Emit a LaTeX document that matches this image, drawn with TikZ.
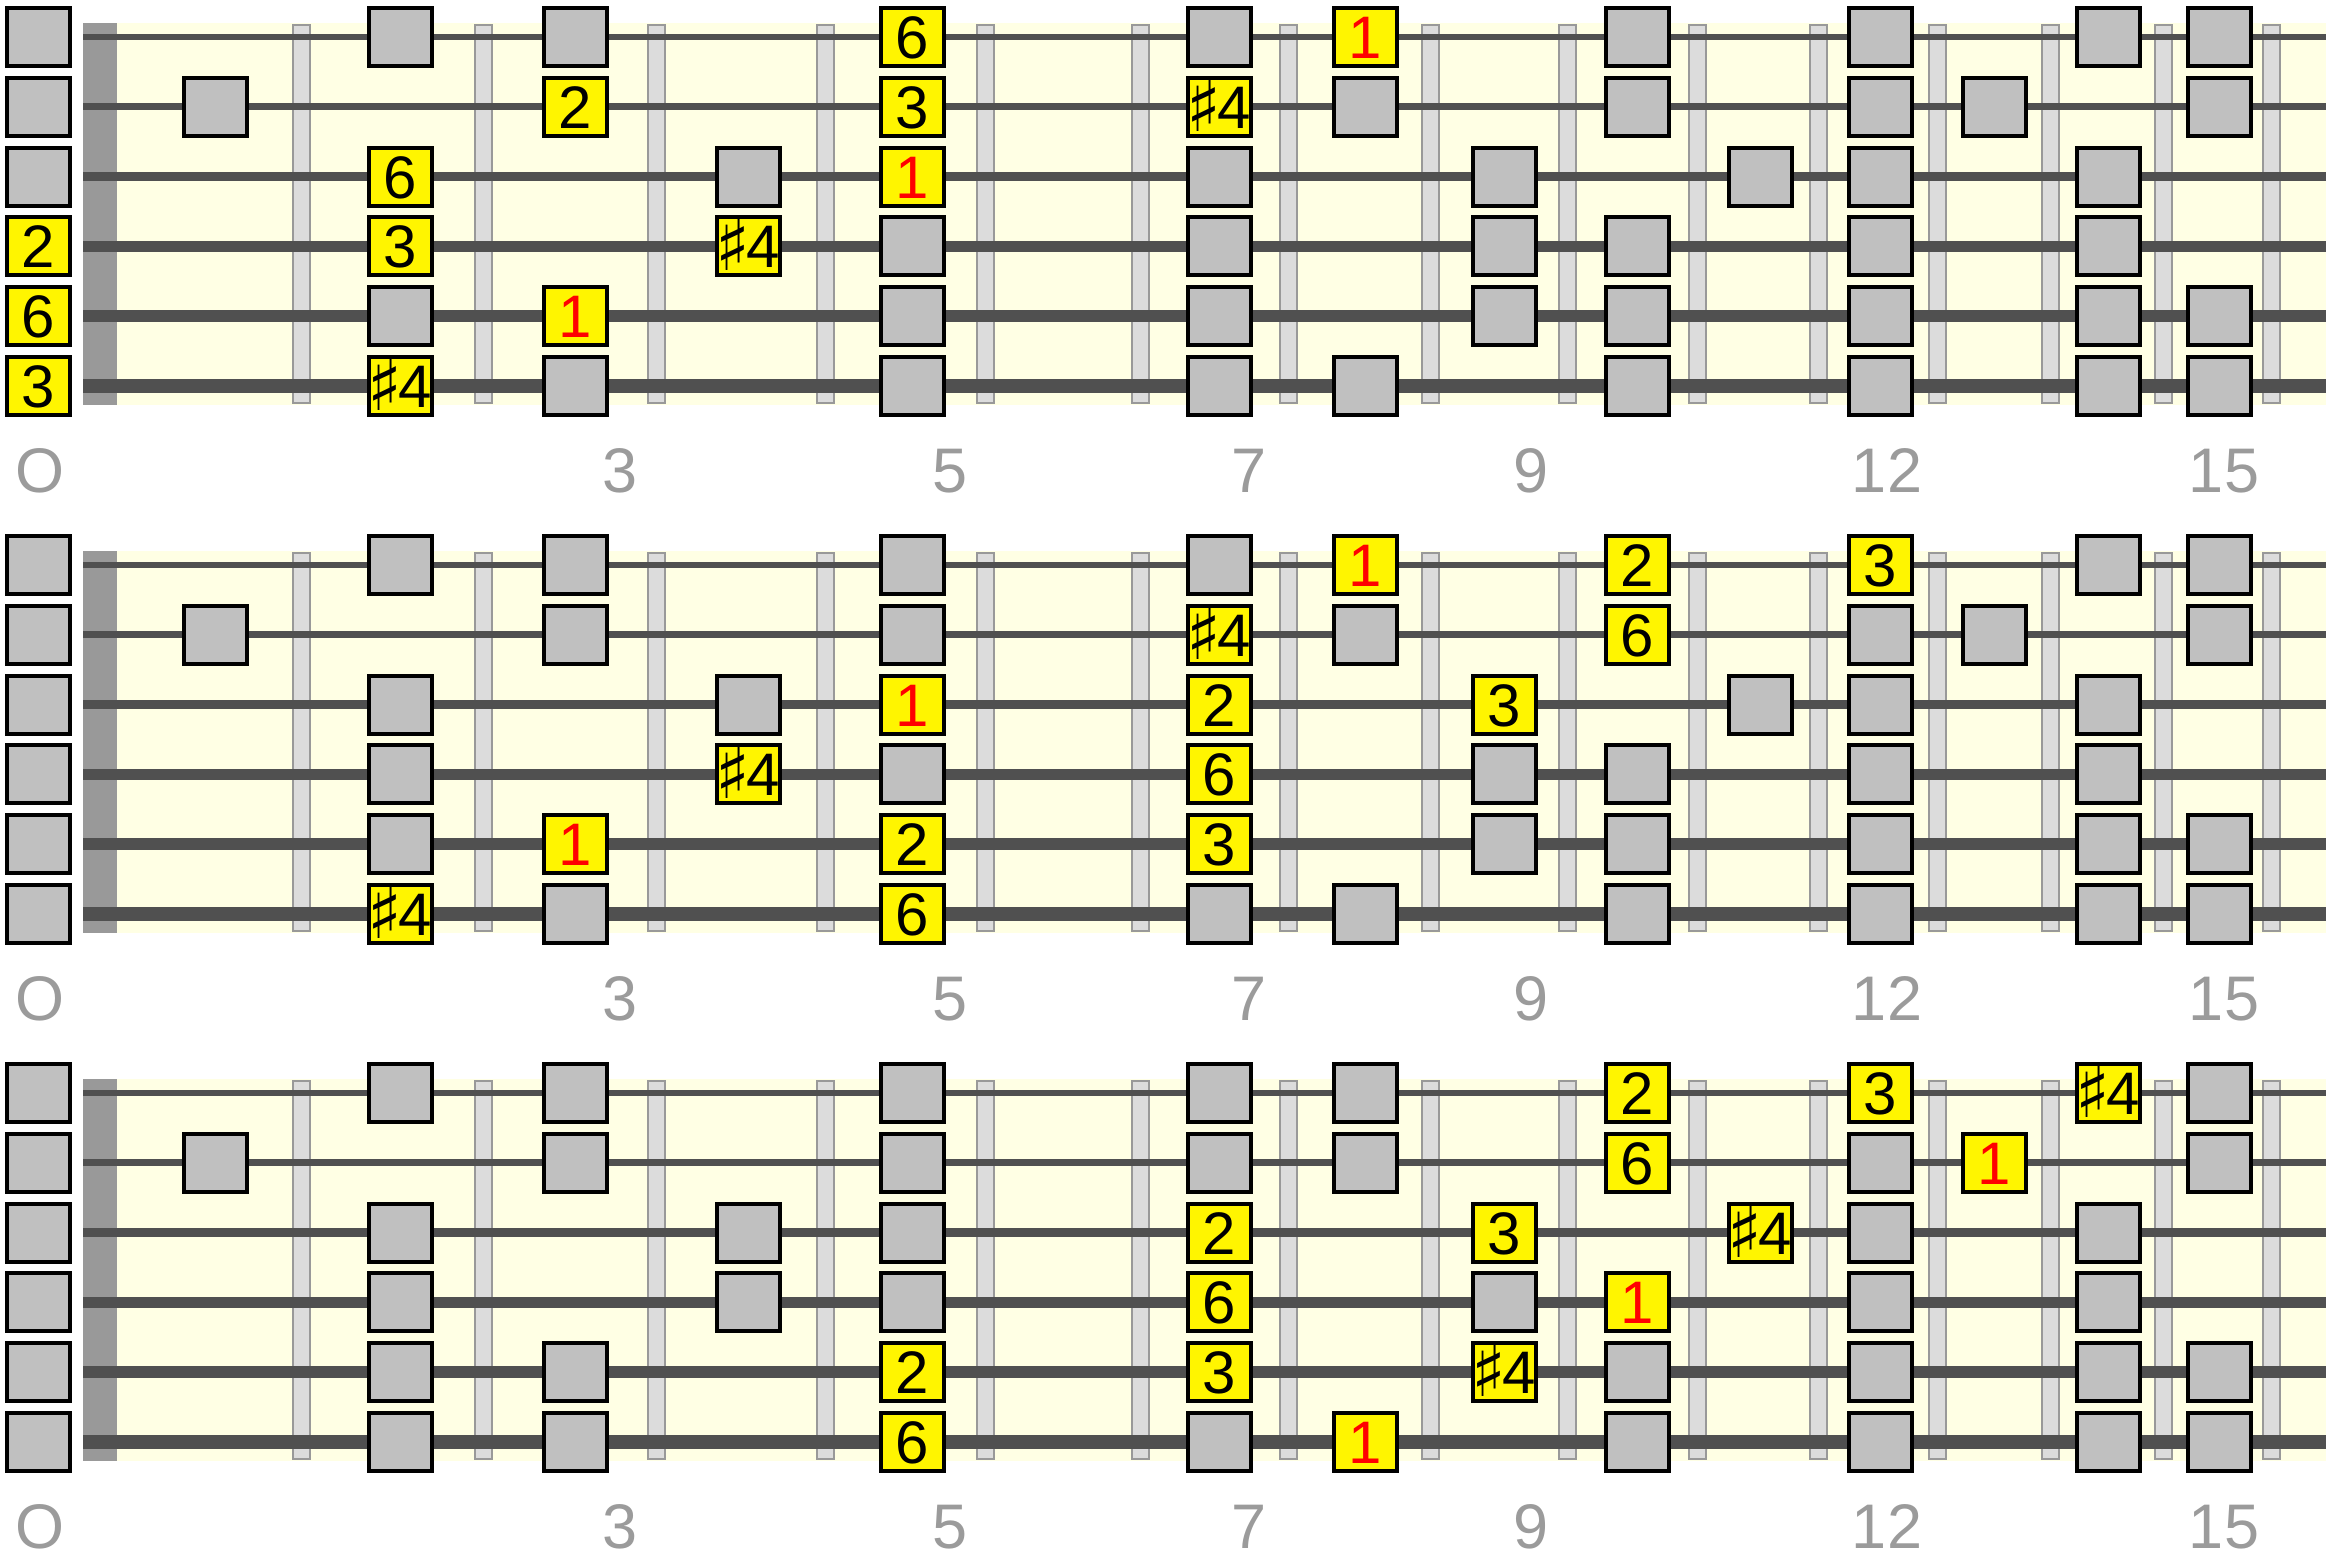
\documentclass[tikz,border=0pt]{standalone}
\usepackage{fontspec}
\setmainfont{Liberation Sans}
\newfontfamily\symfont{DejaVu Sans}

\definecolor{boardbg}{RGB}{255,255,228}
\definecolor{nutgray}{RGB}{153,153,153}
\definecolor{stringgray}{RGB}{80,80,80}
\definecolor{fretfill}{RGB}{220,220,220}
\definecolor{notegray}{RGB}{192,192,192}
\definecolor{noteyellow}{RGB}{255,245,0}
\definecolor{labelgray}{RGB}{155,155,155}

% scale degree shown on board / string / fret
\newcommand{\setdeg}[4]{\expandafter\def\csname deg@#1@#2@#3\endcsname{#4}}
\newcommand{\rootdeg}{\textcolor{red}{1}}
\newcommand{\sharpfour}{\makebox[28pt][c]{\raisebox{-1.5pt}{\symfont\fontsize{36}{36}\selectfont ♯}\kern-2pt 4}}

% board 1
\setdeg{1}{1}{5}{6}\setdeg{1}{1}{8}{\rootdeg}
\setdeg{1}{2}{3}{2}\setdeg{1}{2}{5}{3}\setdeg{1}{2}{7}{\sharpfour}
\setdeg{1}{3}{2}{6}\setdeg{1}{3}{5}{\rootdeg}
\setdeg{1}{4}{0}{2}\setdeg{1}{4}{2}{3}\setdeg{1}{4}{4}{\sharpfour}
\setdeg{1}{5}{0}{6}\setdeg{1}{5}{3}{\rootdeg}
\setdeg{1}{6}{0}{3}\setdeg{1}{6}{2}{\sharpfour}
% board 2
\setdeg{2}{1}{8}{\rootdeg}\setdeg{2}{1}{10}{2}\setdeg{2}{1}{12}{3}
\setdeg{2}{2}{7}{\sharpfour}\setdeg{2}{2}{10}{6}
\setdeg{2}{3}{5}{\rootdeg}\setdeg{2}{3}{7}{2}\setdeg{2}{3}{9}{3}
\setdeg{2}{4}{4}{\sharpfour}\setdeg{2}{4}{7}{6}
\setdeg{2}{5}{3}{\rootdeg}\setdeg{2}{5}{5}{2}\setdeg{2}{5}{7}{3}
\setdeg{2}{6}{2}{\sharpfour}\setdeg{2}{6}{5}{6}
% board 3
\setdeg{3}{1}{10}{2}\setdeg{3}{1}{12}{3}\setdeg{3}{1}{14}{\sharpfour}
\setdeg{3}{2}{10}{6}\setdeg{3}{2}{13}{\rootdeg}
\setdeg{3}{3}{7}{2}\setdeg{3}{3}{9}{3}\setdeg{3}{3}{11}{\sharpfour}
\setdeg{3}{4}{7}{6}\setdeg{3}{4}{10}{\rootdeg}
\setdeg{3}{5}{5}{2}\setdeg{3}{5}{7}{3}\setdeg{3}{5}{9}{\sharpfour}
\setdeg{3}{6}{5}{6}\setdeg{3}{6}{8}{\rootdeg}

\def\notexs{{38,215,400,575,748,912,1066,1219,1365,1504,1637,1760,1880,1994,2108,2219}}

\begin{document}
\begin{tikzpicture}[x=0.5pt,y=-0.5pt,
        note/.style = {draw=black, line width=2pt, fill=notegray,
                minimum width=31.5pt, minimum height=29pt, inner sep=0pt,
                text height=21.5pt, text depth=0pt,
                font=\fontsize{30}{30}\selectfont},
        hit/.style = {note, fill=noteyellow},
        fretwire/.style = {draw=nutgray, fill=fretfill, line width=1pt},
        fretno/.style = {anchor=base, text=labelgray,
                font=\fontsize{31.5}{31.5}\selectfont}]
    \useasboundingbox (0,0) rectangle (2326,1559);
    \foreach \b/\oy in {1/0,2/528,3/1056} {
        \fill[boardbg] (83,23+\oy) rectangle (2326,405+\oy);
        \fill[nutgray] (83,23+\oy) rectangle (117,405+\oy);
        \foreach \fx in {301,483,656,825,985.5,1140,1288,1430,1567,1697,1818,1937,2050,2163,2271}
            \draw[fretwire] (\fx-8.5,25+\oy) rectangle (\fx+8.5,403+\oy);
        \foreach \s/\w in {1/3.2,2/3.6,3/4.3,4/5.1,5/6,6/7}
            \draw[stringgray, line width=\w pt] (83,37+69.8*\s-69.8+\oy) -- (2326,37+69.8*\s-69.8+\oy);
        % notes of the scale on each string
        \foreach \s/\frets in {1/{0,2,3,5,7,8,10,12,14,15},2/{0,1,3,5,7,8,10,12,13,15},
                3/{0,2,4,5,7,9,11,12,14},4/{0,2,4,5,7,9,10,12,14},
                5/{0,2,3,5,7,9,10,12,14,15},6/{0,2,3,5,7,8,10,12,14,15}} {
            \foreach \f in \frets {
                \pgfmathsetmacro\nx{\notexs[\f]}
                \pgfmathsetmacro\ny{37+69.8*(\s-1)+\oy}
                \ifcsname deg@\b@\s@\f\endcsname
                    \node[hit] (n\b-\s-\f) at (\nx,\ny) {\csname deg@\b@\s@\f\endcsname};
                \else
                    \node[note] (n\b-\s-\f) at (\nx,\ny) {};
                \fi
            }
        }
        \foreach \t/\lx in {O/40,3/620,5/950,7/1249,9/1531,12/1887,15/2224}
            \node[fretno] (fno\b-\t) at (\lx,492+\oy) {\t};
    }
\end{tikzpicture}
\end{document}
